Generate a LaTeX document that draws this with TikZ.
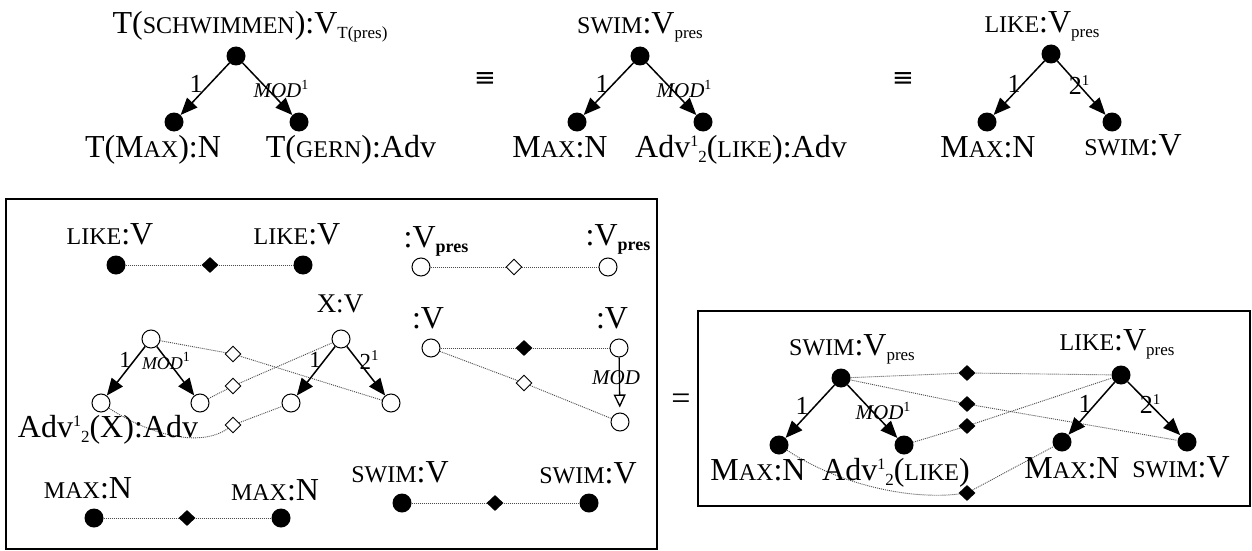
\documentclass[tikz,border=0pt]{standalone}
\usepackage{fontspec}
\setmainfont{Liberation Serif}
\newfontfamily\djv{DejaVu Sans}
\usetikzlibrary{arrows.meta,shapes.geometric}
\newcommand\smc[1]{{\fontsize{24}{24}\selectfont #1}}
\newcommand\lsub[1]{\raisebox{-5pt}{\fontsize{17}{17}\selectfont #1}}
\newcommand\bsub[1]{\raisebox{-5pt}{\fontsize{18}{18}\selectfont\bfseries #1}}
\newcommand\lsup[1]{\raisebox{11pt}{\fontsize{16}{16}\selectfont #1}}
\newcommand\msup[1]{\raisebox{8pt}{\fontsize{14}{14}\selectfont\upshape #1}}
\newcommand\dsup[1]{\raisebox{9pt}{\fontsize{15}{15}\selectfont #1}}
\tikzset{
  dot/.style={circle,fill=black,inner sep=0pt,minimum size=19pt},
  odot/.style={circle,draw,fill=white,line width=1pt,inner sep=0pt,minimum size=18pt},
  fd/.style={diamond,fill=black,inner sep=0pt,minimum width=17pt,minimum height=16pt},
  od/.style={diamond,draw,fill=white,line width=0.9pt,inner sep=0pt,minimum width=16pt,minimum height=16pt},
  arr/.style={line width=1.5pt,-{Triangle[length=17pt,width=14pt]}},
  dl/.style={line width=0.9pt,black!70,dash pattern=on 1pt off 1pt},
  lab/.style={anchor=base,inner sep=0pt,font=\fontsize{32}{32}\selectfont},
  slab/.style={anchor=base,inner sep=0pt,font=\fontsize{27}{27}\selectfont},
  el/.style={inner sep=0pt,font=\fontsize{26}{26}\selectfont},
  sel/.style={inner sep=0pt,font=\fontsize{23}{23}\selectfont},
  modl/.style={inner sep=0pt,font=\fontsize{21}{21}\selectfont\itshape},
  smodl/.style={inner sep=0pt,font=\fontsize{18}{18}\selectfont\itshape},
  eqv/.style={inner sep=0pt,font=\djv\fontsize{26}{26}\selectfont},
  boxl/.style={line width=1.8pt}
}
\begin{document}
\begin{tikzpicture}[x=1pt,y=-1pt]
\useasboundingbox (0,0) rectangle (1252,551);
% ---------- top row: tree 1
\node[lab] (t1l) at (250,34) {T(\smc{SCHWIMMEN}):V\lsub{T(pres)}};
\node[dot] (t1r) at (236,56) {};
\node[dot] (t1a) at (174,122) {};
\node[dot] (t1b) at (299,122) {};
\draw[arr] (t1r) -- (t1a);
\draw[arr] (t1r) -- (t1b);
\node[el] (t1e1) at (196,84) {1};
\node[modl] (t1e2) at (281,89) {MOD\msup{1}};
\node[lab] (t1al) at (153,157) {T(M\smc{AX}):N};
\node[lab] (t1bl) at (351,157) {T(\smc{GERN}):Adv};
\node[eqv] (eq1) at (485,80) {≡};
% ---------- tree 2
\node[lab] (t2l) at (640,34) {\smc{SWIM}:V\lsub{pres}};
\node[dot] (t2r) at (640,56) {};
\node[dot] (t2a) at (577,122) {};
\node[dot] (t2b) at (703,122) {};
\draw[arr] (t2r) -- (t2a);
\draw[arr] (t2r) -- (t2b);
\node[el] (t2e1) at (602,84) {1};
\node[modl] (t2e2) at (684,89) {MOD\msup{1}};
\node[lab] (t2al) at (560,157) {M\smc{AX}:N};
\node[lab] (t2bl) at (741,157) {Adv\lsup{1}\lsub{2}(\smc{LIKE}):Adv};
\node[eqv] (eq2) at (903,80) {≡};
% ---------- tree 3
\node[lab] (t3l) at (1042,33) {\smc{LIKE}:V\lsub{pres}};
\node[dot] (t3r) at (1051,54) {};
\node[dot] (t3a) at (987,122) {};
\node[dot] (t3b) at (1112,122) {};
\draw[arr] (t3r) -- (t3a);
\draw[arr] (t3r) -- (t3b);
\node[el] (t3e1) at (1014,84) {1};
\node[el] (t3e2) at (1079,85) {2\dsup{1}};
\node[lab] (t3al) at (988,157) {M\smc{AX}:N};
\node[lab] (t3bl) at (1133,155) {\smc{SWIM}:V};
% ---------- left box
\draw[boxl] (6,199) rectangle (657,549);
\node[lab] (lkl1) at (110,244) {\smc{LIKE}:V};
\node[lab] (lkl2) at (297,244) {\smc{LIKE}:V};
\node[dot] (lk1) at (116,265) {};
\node[dot] (lk2) at (303,265) {};
\node[fd] (lkd) at (210,265) {};
\draw[dl] (lk1) -- (lkd);
\draw[dl] (lkd) -- (lk2);
\node[lab] (vpl1) at (436,247) {:V\bsub{pres}};
\node[lab] (vpl2) at (618,245) {:V\bsub{pres}};
\node[odot] (vp1) at (421,267) {};
\node[odot] (vp2) at (608,267) {};
\node[od] (vpd) at (514,267) {};
\draw[dl] (vp1) -- (vpd);
\draw[dl] (vpd) -- (vp2);
% left trees
\node[odot] (a0) at (151,339) {};
\node[odot] (a1) at (101,403) {};
\node[odot] (a2) at (200,403) {};
\node[slab] (xvl) at (340,312) {X:V};
\node[odot] (b0) at (341,339) {};
\node[odot] (b1) at (291,403) {};
\node[odot] (b2) at (391,403) {};
\node[od] (da) at (233,354) {};
\node[od] (db) at (233,386) {};
\node[od] (dc) at (233,425) {};
\draw[dl] (a0) -- (da);
\draw[dl] (da) -- (b2);
\draw[dl] (a2) -- (db);
\draw[dl] (db) -- (b0);
\draw[dl] (a1) .. controls (150,435) and (200,448) .. (dc);
\draw[dl] (dc) -- (b1);
\draw[arr] (a0) -- (a1);
\draw[arr] (a0) -- (a2);
\draw[arr] (b0) -- (b1);
\draw[arr] (b0) -- (b2);
\node[sel] (ae1) at (125,360) {1};
\node[smodl] (ae2) at (166,361) {MOD\msup{1}};
\node[sel] (be1) at (315,360) {1};
\node[sel] (be2) at (369,360) {2\dsup{1}};
\node[lab] (advx) at (108,437) {Adv\lsup{1}\lsub{2}(X):Adv};
% right middle
\node[lab] (vl1) at (428,328) {:V};
\node[lab] (vl2) at (612,328) {:V};
\node[odot] (v1) at (431,348) {};
\node[odot] (v2) at (619,348) {};
\node[odot] (v3) at (620,422) {};
\node[fd] (vd1) at (524,348) {};
\node[od] (vd2) at (524,383) {};
\draw[dl] (v1) -- (vd1);
\draw[dl] (vd1) -- (v2);
\draw[dl] (v1) -- (vd2);
\draw[dl] (vd2) -- (v3);
\draw[line width=1.3pt,-{Triangle[open,length=13pt,width=12pt]},shorten >=5pt] (v2) -- (v3);
\node[modl] (vmod) at (616,378) {MOD};
% bottom
\node[lab] (mxl1) at (88,498) {\smc{MAX}:N};
\node[lab] (mxl2) at (275,500) {\smc{MAX}:N};
\node[dot] (mx1) at (94,518) {};
\node[dot] (mx2) at (281,518) {};
\node[fd] (mxd) at (187,518) {};
\draw[dl] (mx1) -- (mxd);
\draw[dl] (mxd) -- (mx2);
\node[lab] (swl1) at (400,482) {\smc{SWIM}:V};
\node[lab] (swl2) at (588,483) {\smc{SWIM}:V};
\node[dot] (sw1) at (402,503) {};
\node[dot] (sw2) at (589,503) {};
\node[fd] (swd) at (495,503) {};
\draw[dl] (sw1) -- (swd);
\draw[dl] (swd) -- (sw2);
% ---------- equals
\node[inner sep=0pt,font=\fontsize{34}{34}\selectfont] (eqs) at (681,402) {=};
% ---------- right box
\draw[boxl] (698,311) rectangle (1250,506);
\node[lab] (sl) at (852,355) {\smc{SWIM}:V\lsub{pres}};
\node[lab] (ll) at (1117,350) {\smc{LIKE}:V\lsub{pres}};
\node[dot] (s0) at (841,378) {};
\node[dot] (s1) at (779,445) {};
\node[dot] (s2) at (904,445) {};
\node[dot] (l0) at (1121,375) {};
\node[dot] (l1) at (1062,442) {};
\node[dot] (l2) at (1187,442) {};
\node[fd] (e1) at (967,373) {};
\node[fd] (e2) at (967,404) {};
\node[fd] (e3) at (967,426) {};
\node[fd] (e4) at (967,493) {};
\draw[dl] (s0) -- (e1);
\draw[dl] (e1) -- (l0);
\draw[dl] (s0) -- (e2);
\draw[dl] (e2) -- (l2);
\draw[dl] (s2) -- (e3);
\draw[dl] (e3) -- (l0);
\draw[dl] (s1) .. controls (840,485) and (910,500) .. (e4);
\draw[dl] (e4) -- (l1);
\draw[arr] (s0) -- (s1);
\draw[arr] (s0) -- (s2);
\draw[arr] (l0) -- (l1);
\draw[arr] (l0) -- (l2);
\node[el] (se1) at (802,406) {1};
\node[modl] (se2) at (883,411) {MOD\msup{1}};
\node[el] (le1) at (1085,404) {1};
\node[el] (le2) at (1150,404) {2\dsup{1}};
\node[lab] (sml) at (758,480) {M\smc{AX}:N};
\node[lab] (sal) at (896,480) {Adv\lsup{1}\lsub{2}(\smc{LIKE})};
\node[lab] (lml) at (1072,478) {M\smc{AX}:N};
\node[lab] (lsl) at (1181,477) {\smc{SWIM}:V};
\end{tikzpicture}
\end{document}
